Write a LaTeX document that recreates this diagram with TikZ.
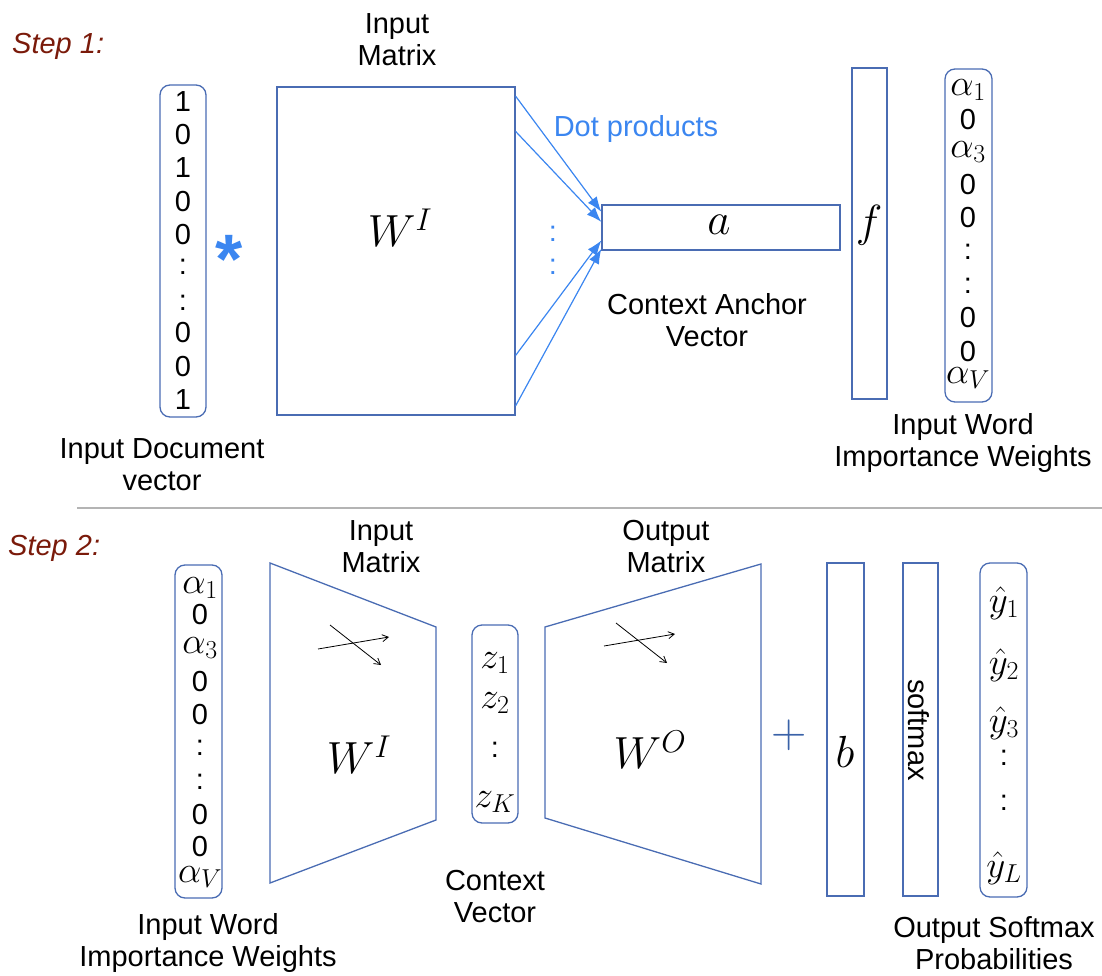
\RequirePackage{fix-cm}
\documentclass[tikz,border=0pt]{standalone}
\usepackage[no-math]{fontspec}
\setmainfont{Liberation Sans}
\usetikzlibrary{arrows.meta,calc}
\definecolor{boxblue}{HTML}{4A6CB3}
\definecolor{arrblue}{HTML}{3B86F0}
\definecolor{stepred}{HTML}{7A1A0A}
\definecolor{sepgray}{HTML}{B4B4B4}
\definecolor{plusblue}{HTML}{3A62A8}
\newcommand\mathent[1]{{\fontsize{37}{37}\selectfont$#1$}}
\begin{document}
\begin{tikzpicture}[x=1pt,y=-1pt,
  box/.style={draw=boxblue, line width=1.3pt, inner sep=0pt},
  vec/.style={draw=boxblue, line width=1.3pt, rounded corners=10pt, inner sep=0pt},
  lbl/.style={font=\fontsize{29}{32}\selectfont, align=center, inner sep=0pt, anchor=north},
  ent/.style={font=\fontsize{29}{33}\selectfont, inner sep=0pt},
  big/.style={font=\fontsize{45}{45}\selectfont, inner sep=0pt},
  steplbl/.style={font=\fontsize{29}{33}\selectfont\itshape, text=stepred, anchor=north west, inner sep=0pt},
  dotarr/.style={draw=arrblue, line width=1.2pt, -{Latex[length=15pt,width=11pt]}},
  crossarr/.style={draw=black, line width=0.8pt, -{Straight Barb[length=6pt,width=7pt]}}
]
\useasboundingbox (0,0) rectangle (1102,976);

% ---------------- Step 1 ----------------
\node[steplbl] (step1) at (12,33) {Step 1:};

\node[vec, minimum width=46pt, minimum height=332pt] (v1) at (183,251) {};
\foreach \t/\yy [count=\i] in {1/102,0/135,1/168,0/202,0/235,:/267,:/303,0/333,0/367,1/400}
  \node[ent] (v1e\i) at (183,\yy) {\t};
\node[font=\fontsize{70}{70}\selectfont\bfseries, text=arrblue, inner sep=0pt, anchor=base] (star) at (229,283) {*};

\node[box, minimum width=238pt, minimum height=328pt] (W1) at (396,251) {};
\node[big] (W1t) at (400,228) {$W^I$};
\node[lbl] (W1l) at (397,13) {Input\\Matrix};

\node[box, minimum width=238pt, minimum height=45pt] (A) at (721,227.5) {};
\node[big] (At) at (719,225) {$a$};
\node[lbl, text=arrblue] (dotp) at (636,115) {Dot products};
\node[ent, text=arrblue] (dd1) at (553,234) {:};
\node[ent, text=arrblue] (dd2) at (553,267) {:};
\draw[dotarr] ($(W1.north east)!0.03!(W1.south east)$) -- ($(A.north west)!0.16!(A.south west)$);
\draw[dotarr] ($(W1.north east)!0.137!(W1.south east)$) -- ($(A.north west)!0.38!(A.south west)$);
\draw[dotarr] ($(W1.north east)!0.817!(W1.south east)$) -- ($(A.north west)!0.78!(A.south west)$);
\draw[dotarr] ($(W1.north east)!0.97!(W1.south east)$) -- ($(A.north west)!0.96!(A.south west)$);
\node[lbl] (Al) at (707,293) {Context Anchor\\Vector};

\node[box, minimum width=35pt, minimum height=331pt] (F) at (869.5,233.5) {};
\node[big] (Ft) at (869,225) {$f$};

\node[vec, minimum width=47pt, minimum height=333pt] (al1) at (968.5,235.5) {};
\foreach \t/\yy [count=\i] in {\mathent{\alpha_1}/90,0/120,\mathent{\alpha_3}/152,0/185,0/218,:/252,:/286,0/318,0/352,\mathent{\alpha_V}/378}
  \node[ent] (al1e\i) at (968,\yy) {\t};
\node[lbl] (al1l) at (963,413) {Input Word\\Importance Weights};
\node[lbl] (v1l) at (162,438) {Input Document\\vector};

% separator
\coordinate (sepL) at (77,508);
\coordinate (sepR) at (1102,508);
\draw[sepgray, line width=1.5pt] (sepL) -- (sepR);

% ---------------- Step 2 ----------------
\node[steplbl] (step2) at (8,535) {Step 2:};

\node[vec, minimum width=47pt, minimum height=333pt] (al2) at (198.5,731.5) {};
\foreach \t/\yy [count=\i] in {\mathent{\alpha_1}/588,0/615,\mathent{\alpha_3}/648,0/682,0/715,:/748,:/782,0/815,0/847,\mathent{\alpha_V}/877}
  \node[ent] (al2e\i) at (200,\yy) {\t};
\node[lbl] (al2l) at (208,913) {Input Word\\Importance Weights};

% input trapezoid
\coordinate (ti1) at (270,563);
\coordinate (ti2) at (436,627);
\coordinate (ti3) at (436,820);
\coordinate (ti4) at (270,883);
\draw[draw=boxblue, line width=1.3pt] (ti1) -- (ti2) -- (ti3) -- (ti4) -- cycle;
\draw[crossarr] (330,625) -- (381,665);
\draw[crossarr] (318,649) -- (389,637);
\node[big] (W2t) at (359,755) {$W^I$};
\node[lbl] (W2l) at (381,520) {Input\\Matrix};

% context vector
\node[vec, minimum width=46pt, minimum height=198pt] (z) at (495,724) {};
\foreach \t/\yy [count=\i] in {\mathent{z_1}/663,\mathent{z_2}/703,:/750,\mathent{z_K}/802}
  \node[ent] (ze\i) at (495,\yy) {\t};
\node[lbl] (zl) at (495,870) {Context\\Vector};

% output trapezoid
\coordinate (to1) at (545,627);
\coordinate (to2) at (761,564);
\coordinate (to3) at (761,884);
\coordinate (to4) at (545,818);
\draw[draw=boxblue, line width=1.3pt] (to1) -- (to2) -- (to3) -- (to4) -- cycle;
\draw[crossarr] (616,623) -- (667,663);
\draw[crossarr] (604,646) -- (675,634);
\node[big] (WOt) at (650,750) {$W^O$};
\node[lbl] (WOl) at (666,520) {Output\\Matrix};

% plus
\node[font=\fontsize{49}{49}\selectfont, text=plusblue, inner sep=0pt] (plus) at (789,735) {$+$};

% bias
\node[box, minimum width=37pt, minimum height=333pt] (B) at (845.5,729.5) {};
\node[big] (Bt) at (845,752) {$b$};

% softmax
\node[box, minimum width=35pt, minimum height=333pt] (S) at (920.5,729.5) {};
\node[ent, rotate=-90] (St) at (919,730) {softmax};

% output vector
\node[vec, minimum width=47pt, minimum height=334pt] (Y) at (1003.5,730) {};
\foreach \t/\yy [count=\i] in {\mathent{\hat{y}_1}/603,\mathent{\hat{y}_2}/665,\mathent{\hat{y}_3}/723,:/758,:/803,\mathent{\hat{y}_L}/868}
  \node[ent] (Ye\i) at (1004,\yy) {\t};
\node[lbl] (Yl) at (994,916) {Output Softmax\\Probabilities};

\end{tikzpicture}
\end{document}
